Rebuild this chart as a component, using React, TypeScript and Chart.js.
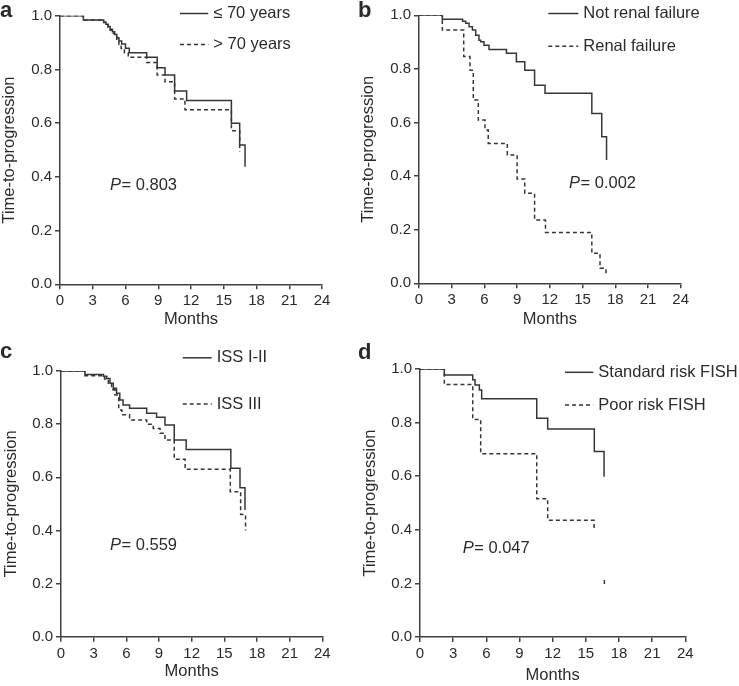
import React, { useEffect, useRef } from "react";
import { Chart, registerables } from "chart.js";

Chart.register(...registerables);

// ---------- data ----------
const X_TICKS = [0, 3, 6, 9, 12, 15, 18, 21, 24];
const Y_TICKS = [0, 0.2, 0.4, 0.6, 0.8, 1.0];
const X_TITLE = "Months";
const Y_TITLE = "Time-to-progression";

// Panel a: age
const A_LABELS = ["\u2264 70 years", "> 70 years"];
const A_P = "0.803";
const A_LE70_MONTHS = [0, 2.14, 4.0, 4.2, 4.4, 4.6, 4.8, 5.0, 5.2, 5.4, 5.65, 6.0, 6.35, 7.94, 8.9, 9.62, 10.5, 11.6, 15.7, 16.46, 16.95];
const A_LE70_SURV = [1.0, 0.984, 0.976, 0.968, 0.96, 0.95, 0.94, 0.93, 0.918, 0.906, 0.895, 0.879, 0.862, 0.845, 0.806, 0.779, 0.72, 0.684, 0.6, 0.519, 0.438];
const A_GT70_MONTHS = [0, 2.14, 4.0, 4.2, 4.4, 4.6, 4.8, 5.0, 5.2, 5.4, 5.6, 5.9, 6.25, 7.94, 8.9, 9.62, 10.5, 11.45, 15.7, 16.46];
const A_GT70_SURV = [1.0, 0.984, 0.975, 0.966, 0.957, 0.946, 0.935, 0.922, 0.908, 0.893, 0.878, 0.862, 0.845, 0.826, 0.779, 0.754, 0.69, 0.65, 0.572, 0.494];

// Panel b: renal failure
const B_LABELS = ["Not renal failure", "Renal failure"];
const B_P = "0.002";
const B_NOT_MONTHS = [0, 2.14, 4.0, 4.28, 4.59, 4.9, 5.2, 5.5, 5.66, 5.96, 6.42, 8.02, 8.93, 9.7, 10.6, 11.56, 15.85, 16.76, 17.2];
const B_NOT_SURV = [1.0, 0.985, 0.978, 0.97, 0.957, 0.945, 0.926, 0.907, 0.901, 0.888, 0.872, 0.858, 0.827, 0.795, 0.739, 0.709, 0.634, 0.547, 0.46];
const B_RF_MONTHS = [0, 2.14, 4.1, 4.68, 4.98, 5.44, 6.05, 6.35, 8.1, 9.0, 9.7, 10.6, 11.6, 15.85, 16.6, 17.15];
const B_RF_SURV = [1.0, 0.945, 0.846, 0.795, 0.684, 0.609, 0.572, 0.522, 0.479, 0.389, 0.336, 0.236, 0.19, 0.112, 0.056, 0.037];

// Panel c: ISS
const C_LABELS = ["ISS I-II", "ISS III"];
const C_P = "0.559";
const C_12_MONTHS = [0, 2.2, 3.9, 4.2, 4.5, 4.8, 5.1, 5.4, 5.7, 6.3, 7.87, 8.78, 9.55, 10.4, 11.5, 15.6, 16.44, 16.9];
const C_12_SURV = [1.0, 0.987, 0.98, 0.972, 0.954, 0.935, 0.916, 0.891, 0.872, 0.86, 0.841, 0.826, 0.797, 0.74, 0.705, 0.634, 0.561, 0.477];
const C_3_MONTHS = [0, 2.2, 4.0, 4.35, 4.65, 4.96, 5.3, 5.6, 6.3, 7.87, 8.47, 9.1, 9.55, 10.4, 11.4, 15.55, 16.5, 16.95];
const C_3_SURV = [1.0, 0.982, 0.97, 0.954, 0.929, 0.91, 0.853, 0.835, 0.816, 0.8, 0.784, 0.766, 0.74, 0.668, 0.63, 0.546, 0.46, 0.4];

// Panel d: FISH
const D_LABELS = ["Standard risk FISH", "Poor risk FISH"];
const D_P = "0.047";
const D_STD_MONTHS = [0, 2.2, 4.77, 4.98, 5.37, 5.58, 10.56, 11.55, 15.77, 16.65];
const D_STD_SURV = [1.0, 0.978, 0.96, 0.94, 0.922, 0.889, 0.816, 0.776, 0.692, 0.598];
const D_POOR_MONTHS = [0, 2.2, 4.77, 5.49, 10.56, 11.55, 15.75, 16.2, 16.68, 16.68];
const D_POOR_SURV = [1.0, 0.942, 0.812, 0.684, 0.516, 0.436, 0.4, null, 0.213, 0.188];

// ---------- style / layout ----------
const FONT = "'Liberation Sans', Arial, Helvetica, sans-serif";
const LINE_COLOR = "#363636";
const AXIS_COLOR = "#404040";
const TEXT_COLOR = "#2b2b2b";
const DASH = [4, 3];
const TEXT_SIZE = 16.5;
const TICK_SIZE = 15;

type Series = { months: number[]; surv: (number | null)[]; dashed: boolean };

type Panel = {
  letter: string;
  left: number;
  top: number;
  width: number;
  height: number;
  pad: { left: number; top: number; right: number; bottom: number };
  yW: number;
  xH: number;
  yTitlePad: number;
  xTitlePadBottom: number;
  series: Series[];
  labels: string[];
  legend: { x1: number; x2: number; tx: number; rows: number[] };
  p: { x: number; y: number; value: string };
  letterPos: { x: number; y: number };
};

const PANELS: Panel[] = [
  {
    letter: "a",
    left: 0, top: 0, width: 369, height: 340,
    pad: { left: 0, top: 15.7, right: 47, bottom: 0 },
    yW: 60, xH: 55.7, yTitlePad: 0, xTitlePadBottom: 10.4,
    series: [
      { months: A_LE70_MONTHS, surv: A_LE70_SURV, dashed: false },
      { months: A_GT70_MONTHS, surv: A_GT70_SURV, dashed: true },
    ],
    labels: A_LABELS,
    legend: { x1: 180, x2: 208.3, tx: 213.3, rows: [13.5, 44.5] },
    p: { x: 110, y: 185, value: A_P },
    letterPos: { x: 0, y: 16.7 },
  },
  {
    letter: "b",
    left: 355, top: 0, width: 384, height: 340,
    pad: { left: 0, top: 15.3, right: 58.3, bottom: 0 },
    yW: 64, xH: 56.7, yTitlePad: 4, xTitlePadBottom: 10.4,
    series: [
      { months: B_NOT_MONTHS, surv: B_NOT_SURV, dashed: false },
      { months: B_RF_MONTHS, surv: B_RF_SURV, dashed: true },
    ],
    labels: B_LABELS,
    legend: { x1: 548.3, x2: 578.3, tx: 583.3, rows: [13.5, 46.3] },
    p: { x: 569, y: 183, value: B_P },
    letterPos: { x: 358, y: 17 },
  },
  {
    letter: "c",
    left: 0, top: 340, width: 369, height: 346,
    pad: { left: 0, top: 31, right: 46.7, bottom: 0 },
    yW: 61, xH: 49.3, yTitlePad: 2, xTitlePadBottom: 4.7,
    series: [
      { months: C_12_MONTHS, surv: C_12_SURV, dashed: false },
      { months: C_3_MONTHS, surv: C_3_SURV, dashed: true },
    ],
    labels: C_LABELS,
    legend: { x1: 182.7, x2: 211.7, tx: 216.7, rows: [357.8, 404] },
    p: { x: 110, y: 545, value: C_P },
    letterPos: { x: 0, y: 358.3 },
  },
  {
    letter: "d",
    left: 355, top: 340, width: 384, height: 346,
    pad: { left: 0, top: 29, right: 53.7, bottom: 0 },
    yW: 65, xH: 49, yTitlePad: 6, xTitlePadBottom: 0.4,
    series: [
      { months: D_STD_MONTHS, surv: D_STD_SURV, dashed: false },
      { months: D_POOR_MONTHS, surv: D_POOR_SURV, dashed: true },
    ],
    labels: D_LABELS,
    legend: { x1: 565, x2: 593.3, tx: 598.3, rows: [372.3, 405] },
    p: { x: 462.7, y: 548.3, value: D_P },
    letterPos: { x: 358, y: 359 },
  },
];

function annotationPlugin(panel: Panel) {
  return {
    id: "annot-" + panel.letter,
    afterDraw(chart: any) {
      const ctx: CanvasRenderingContext2D = chart.ctx;
      const ox = panel.left;
      const oy = panel.top;
      ctx.save();
      // legend
      panel.labels.forEach((label, i) => {
        const y = panel.legend.rows[i] - oy;
        ctx.beginPath();
        ctx.strokeStyle = LINE_COLOR;
        ctx.lineWidth = 1.5;
        ctx.setLineDash(panel.series[i].dashed ? DASH : []);
        ctx.moveTo(panel.legend.x1 - ox, y);
        ctx.lineTo(panel.legend.x2 - ox, y);
        ctx.stroke();
        ctx.setLineDash([]);
        ctx.fillStyle = TEXT_COLOR;
        ctx.font = `${TEXT_SIZE}px ${FONT}`;
        ctx.textAlign = "left";
        ctx.textBaseline = "middle";
        ctx.fillText(label, panel.legend.tx - ox, y);
      });
      // P value
      ctx.fillStyle = TEXT_COLOR;
      ctx.textBaseline = "middle";
      ctx.font = `italic ${TEXT_SIZE}px ${FONT}`;
      const px = panel.p.x - ox;
      const py = panel.p.y - oy;
      ctx.fillText("P", px, py);
      const pw = ctx.measureText("P").width;
      ctx.font = `${TEXT_SIZE}px ${FONT}`;
      ctx.fillText("= " + panel.p.value, px + pw + 0.5, py);
      // panel letter
      ctx.font = `bold 22px ${FONT}`;
      ctx.textBaseline = "alphabetic";
      ctx.fillText(panel.letter, panel.letterPos.x - ox, panel.letterPos.y - oy);
      ctx.restore();
    },
  };
}

function PanelChart({ panel }: { panel: Panel }) {
  const ref = useRef<HTMLCanvasElement | null>(null);
  useEffect(() => {
    if (!ref.current) return;
    const datasets = panel.series.map((s) => ({
      data: s.months.map((m, i) => ({ x: m, y: s.surv[i] })),
      stepped: true,
      borderColor: LINE_COLOR,
      borderWidth: 1.5,
      borderDash: s.dashed ? DASH : [],
      pointRadius: 0,
      fill: false,
      spanGaps: false,
    }));
    const chart = new Chart(ref.current, {
      type: "line",
      data: { datasets } as any,
      options: {
        responsive: false,
        maintainAspectRatio: false,
        devicePixelRatio: 1,
        animation: false,
        events: [],
        layout: { padding: panel.pad },
        plugins: { legend: { display: false }, tooltip: { enabled: false } },
        scales: {
          x: {
            type: "linear",
            min: X_TICKS[0],
            max: X_TICKS[X_TICKS.length - 1],
            afterBuildTicks: (scale: any) => {
              scale.ticks = X_TICKS.map((v) => ({ value: v }));
            },
            afterFit: (scale: any) => {
              scale.height = panel.xH;
            },
            ticks: {
              color: TEXT_COLOR,
              font: { size: TICK_SIZE, family: FONT },
              padding: 3,
              maxRotation: 0,
              autoSkip: false,
              callback: (v: any) => String(v),
            },
            grid: {
              display: true,
              drawOnChartArea: false,
              drawTicks: true,
              tickLength: 5,
              color: AXIS_COLOR,
              lineWidth: 1.5,
            },
            border: { display: true, color: AXIS_COLOR, width: 1.5 },
            title: {
              display: true,
              text: X_TITLE,
              color: TEXT_COLOR,
              font: { size: TEXT_SIZE, family: FONT },
              padding: { top: 0, bottom: panel.xTitlePadBottom },
            },
          },
          y: {
            type: "linear",
            min: Y_TICKS[0],
            max: Y_TICKS[Y_TICKS.length - 1],
            afterBuildTicks: (scale: any) => {
              scale.ticks = Y_TICKS.map((v) => ({ value: v }));
            },
            afterFit: (scale: any) => {
              scale.width = panel.yW;
            },
            ticks: {
              color: TEXT_COLOR,
              font: { size: TICK_SIZE, family: FONT },
              padding: 3,
              autoSkip: false,
              callback: (v: any) => Number(v).toFixed(1),
            },
            grid: {
              display: true,
              drawOnChartArea: false,
              drawTicks: true,
              tickLength: 5,
              color: AXIS_COLOR,
              lineWidth: 1.5,
            },
            border: { display: true, color: AXIS_COLOR, width: 1.5 },
            title: {
              display: true,
              text: Y_TITLE,
              color: TEXT_COLOR,
              font: { size: TEXT_SIZE, family: FONT },
              padding: { top: panel.yTitlePad, bottom: 0 },
            },
          },
        },
      } as any,
      plugins: [annotationPlugin(panel)],
    });
    return () => chart.destroy();
  }, [panel]);
  return (
    <canvas
      ref={ref}
      width={panel.width}
      height={panel.height}
      style={{
        position: "absolute",
        left: panel.left,
        top: panel.top,
        width: panel.width,
        height: panel.height,
        display: "block",
      }}
    />
  );
}

export default function App() {
  return (
    <div
      style={{
        position: "absolute",
        left: 0,
        top: 0,
        width: 739,
        height: 686,
        background: "#ffffff",
        overflow: "hidden",
      }}
    >
      {PANELS.map((p) => (
        <PanelChart key={p.letter} panel={p} />
      ))}
    </div>
  );
}
